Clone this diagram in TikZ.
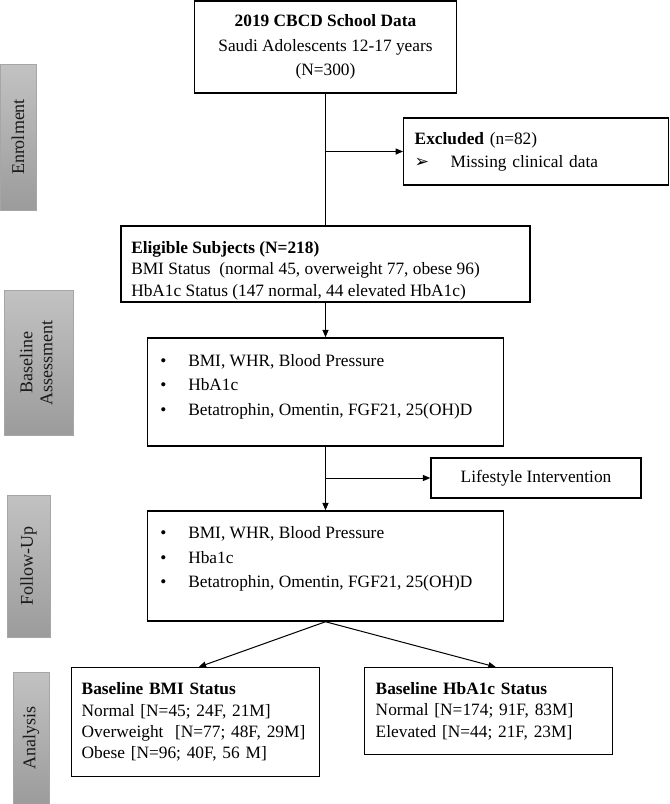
\documentclass[tikz,border=0pt]{standalone}
\usepackage{fontspec}
\setmainfont{Liberation Serif}
\newfontfamily\dingfont{DejaVu Sans}
\usetikzlibrary{arrows.meta}

\begin{document}
\begin{tikzpicture}[x=0.75pt,y=-0.75pt,
	box/.style={draw, line width=1.1pt, inner sep=0pt, font=\fontsize{13}{18.4}\selectfont},
	txt/.style={anchor=north west, align=left, inner sep=0pt},
	phase/.style={draw=gray!70, line width=0.6pt, top color=gray!48, bottom color=gray!78, text=black!90, inner sep=0pt, font=\fontsize{13.5}{15}\selectfont},
	arr/.style={-{Triangle[length=5.5pt,width=4.5pt]}, line width=0.75pt}]
	\useasboundingbox (0,0) rectangle (669,804);

	% phase bars
	\node[phase, minimum width=27pt, minimum height=109.5pt] (enrol) at (18,137) {\rotatebox{90}{Enrolment}};
	\node[phase, minimum width=51.75pt, minimum height=108.75pt] (basephase) at (38.5,362.5) {\rotatebox{90}{\begin{tabular}{@{}c@{}}Baseline\\Assessment\end{tabular}}};
	\node[phase, minimum width=32.25pt, minimum height=106.5pt] (follphase) at (28.5,566) {\rotatebox{90}{Follow-Up}};
	\node[phase, minimum width=27pt, minimum height=99pt] (anaphase) at (31,738) {\rotatebox{90}{Analysis}};

	% boxes
	\node[box, minimum width=196.5pt, minimum height=69pt, align=center] (cbcd) at (325.5,47) {\textbf{2019 CBCD School Data}\\Saudi Adolescents 12-17 years\\(N=300)};
	\node[box, anchor=west, inner xsep=8.25pt, text width=182.25pt, minimum height=50.25pt, align=left, font=\fontsize{13}{17.25}\selectfont] (excl) at (403,151.5) {\textbf{Excluded} (n=82)\\\makebox[27pt][l]{\dingfont ➢}Missing clinical data};

	\node[box, minimum width=306.75pt, minimum height=57pt] (elig) at (325.5,264) {};
	\node[txt, font=\fontsize{13}{16.1}\selectfont] (elig-txt) at (131,241) {\textbf{Eligible Subjects (N=218)}\\BMI Status\ \ (normal 45, overweight 77, obese 96)\\HbA1c Status (147 normal, 44 elevated HbA1c)};

	\node[box, minimum width=267pt, minimum height=81pt] (base) at (325.5,392) {};
	\node[txt, font=\fontsize{13}{18.4}\selectfont] (base-txt) at (160,354) {\makebox[21pt][l]{\textbullet}BMI, WHR, Blood Pressure\\\makebox[21pt][l]{\textbullet}HbA1c\\\makebox[21pt][l]{\textbullet}Betatrophin, Omentin, FGF21, 25(OH)D};

	\node[box, minimum width=157.5pt, minimum height=30pt] (life) at (536,478) {Lifestyle Intervention};

	\node[box, minimum width=267pt, minimum height=82.5pt] (foll) at (325.5,566) {};
	\node[txt, font=\fontsize{13}{18.6}\selectfont] (foll-txt) at (160,526) {\makebox[21pt][l]{\textbullet}BMI, WHR, Blood Pressure\\\makebox[21pt][l]{\textbullet}Hba1c\\\makebox[21pt][l]{\textbullet}Betatrophin, Omentin, FGF21, 25(OH)D};

	\node[box, anchor=north west, inner xsep=7.5pt, text width=171pt, minimum height=81.75pt, align=left, font=\fontsize{13}{16}\selectfont] (bmi) at (71,667) {\textbf{Baseline BMI Status}\\Normal [N=45; 24F, 21M]\\Overweight\ \ [N=77; 48F, 29M]\\Obese [N=96; 40F, 56 M]};
	\node[box, anchor=north west, inner xsep=8.25pt, text width=169.5pt, minimum height=65.25pt, align=left, font=\fontsize{13}{16}\selectfont] (hba) at (364,667) {\textbf{Baseline HbA1c Status}\\Normal [N=174; 91F, 83M]\\Elevated [N=44; 21F, 23M]};

	% connectors
	\coordinate (exclbr) at (cbcd.south |- excl.west);
	\coordinate (lifebr) at (base.south |- life.west);
	\draw[line width=0.75pt] (cbcd.south) -- (elig.north);
	\draw[arr] (exclbr) -- (excl.west);
	\draw[arr] (elig.south) -- (base.north);
	\draw[arr] (base.south) -- (foll.north);
	\draw[arr] (lifebr) -- (life.west);
	\draw[arr] (foll.south) -- ([xshift=2.25pt]bmi.north);
	\draw[arr] (foll.south) -- ([xshift=5.25pt]hba.north);
\end{tikzpicture}
\end{document}
